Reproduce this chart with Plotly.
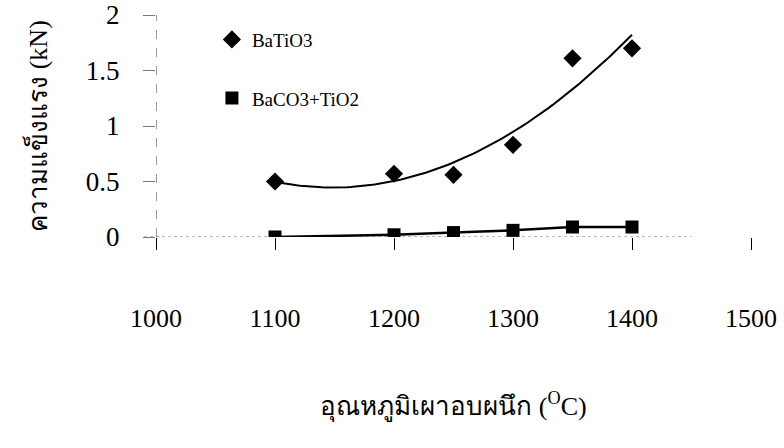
import numpy as np
import plotly.graph_objects as go

# ---- data ----
temperature = [1100, 1200, 1250, 1300, 1350, 1400]
batio3 = [0.50, 0.57, 0.56, 0.83, 1.61, 1.70]
baco3_tio2 = [0.00, 0.02, 0.04, 0.06, 0.09, 0.09]

x_ticks = [1000, 1100, 1200, 1300, 1400, 1500]
x_tick_text = ["1000", "1100", "1200", "1300", "1400", "1500"]
y_ticks = [0, 0.5, 1, 1.5, 2]
y_tick_text = ["0", "0.5", "1", "1.5", "2"]

name_a = "BaTiO3"
name_b = "BaCO3+TiO2"
x_title = "อุณหภูมิเผาอบผนึก (<sup>O</sup>C)"
y_title = "ความแข็งแรง (kN)"

# polynomial (order 2) trendline for BaTiO3, as in the original chart
coef = np.polyfit(temperature, batio3, 2)
trend_x = np.linspace(min(temperature), max(temperature), 100)
trend_y = np.polyval(coef, trend_x)

serif = "Liberation Serif, Times New Roman, serif"

fig = go.Figure()
fig.add_trace(go.Scatter(x=trend_x, y=trend_y, mode="lines",
                         line=dict(color="black", width=2),
                         showlegend=False, hoverinfo="skip"))
fig.add_trace(go.Scatter(x=temperature, y=baco3_tio2, mode="lines",
                         line=dict(color="black", width=2.5),
                         showlegend=False, hoverinfo="skip"))
fig.add_trace(go.Scatter(x=temperature, y=batio3, mode="markers", name=name_a,
                         legendgroup="a",
                         marker=dict(symbol="diamond", size=14, color="black")))
fig.add_trace(go.Scatter(x=temperature, y=baco3_tio2, mode="markers", name=name_b,
                         legendgroup="b",
                         marker=dict(symbol="square", size=13, color="black")))

# dotted axis lines as in the scanned chart
fig.add_shape(type="line", xref="paper", yref="y", x0=-0.02, x1=0.9, y0=0, y1=0,
              line=dict(color="#777777", width=1.2, dash="dot"), layer="below")
fig.add_shape(type="line", xref="x", yref="paper", x0=1000, x1=1000, y0=0, y1=1,
              line=dict(color="#555555", width=1.2, dash="dash"), layer="below")

fig.update_layout(
    width=784, height=448,
    margin=dict(l=156, r=33, t=15, b=211, autoexpand=False),
    paper_bgcolor="white", plot_bgcolor="white",
    font=dict(family=serif, color="black"),
    legend=dict(x=0.094, y=0.975, xanchor="left", yanchor="top",
                font=dict(size=19, family=serif), tracegroupgap=31,
                bgcolor="rgba(0,0,0,0)", itemwidth=30),
    xaxis=dict(range=[1000, 1500], tickvals=x_ticks, ticktext=x_tick_text,
               showgrid=False, zeroline=False, showline=False,
               ticks="outside", ticklen=12, tickcolor="black", tickwidth=1,
               ticklabelstandoff=46,
               tickfont=dict(size=26, family=serif),
               title=dict(text=x_title, font=dict(size=26, family=serif), standoff=64),
               automargin=False),
    yaxis=dict(range=[0, 2], tickvals=y_ticks, ticktext=y_tick_text,
               showgrid=False, zeroline=False, showline=False,
               ticks="outside", ticklen=12, tickcolor="#777777", tickwidth=1,
               ticklabelstandoff=18,
               tickfont=dict(size=27, family=serif),
               title=dict(text=y_title, font=dict(size=26, family=serif), standoff=30),
               automargin=False),
)

fig.write_html("out.html")
